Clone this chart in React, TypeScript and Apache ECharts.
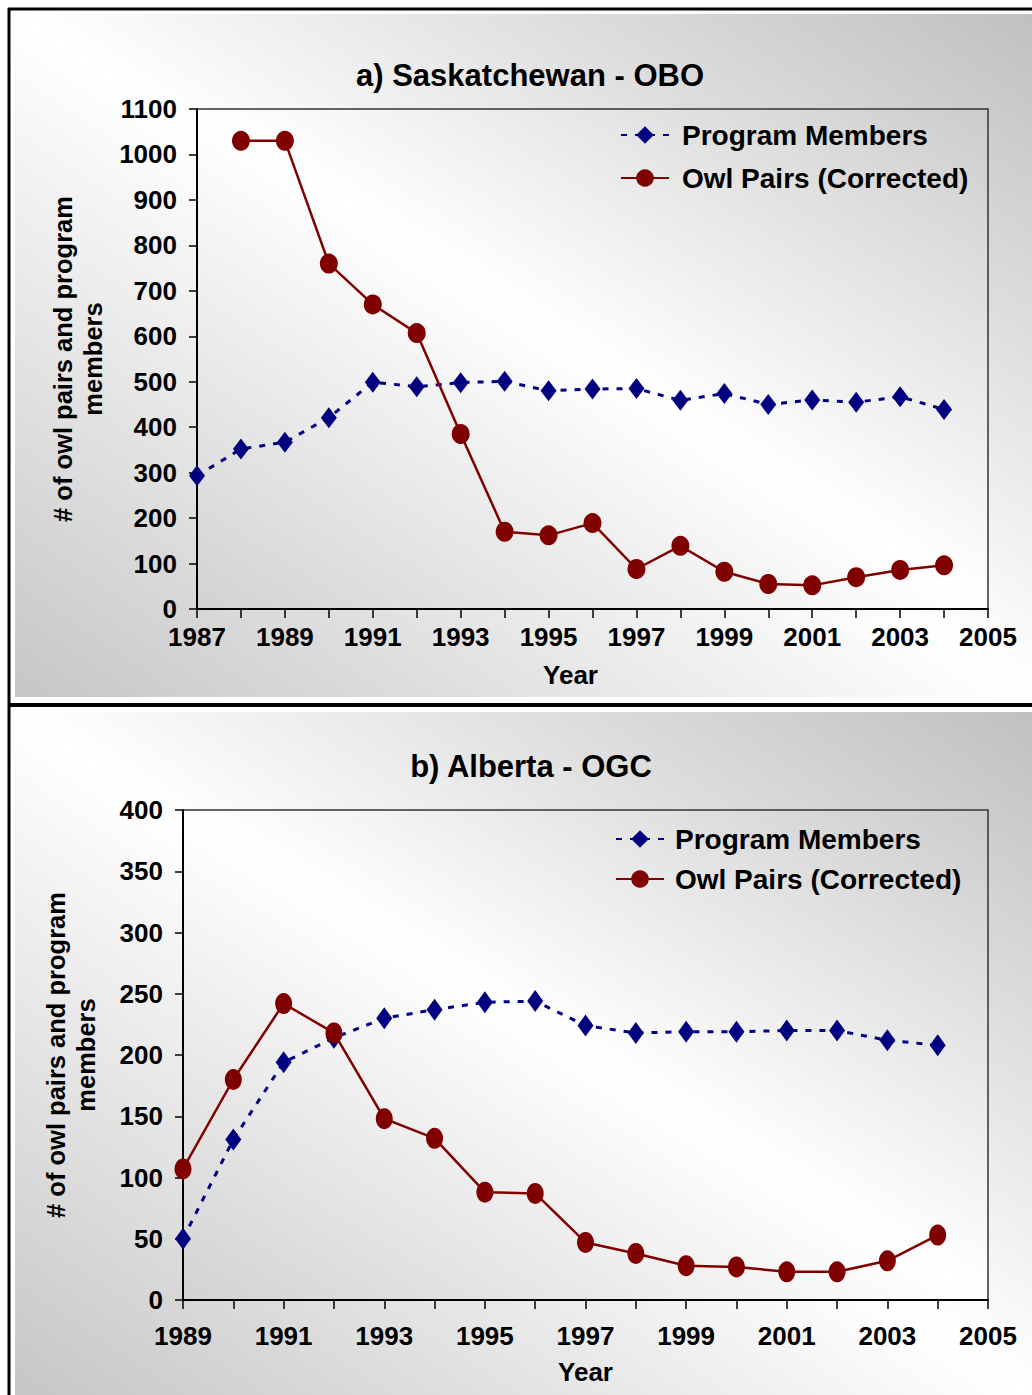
import React, { useEffect, useRef } from 'react';
import * as echarts from 'echarts';

// ---------- Data ----------
const yearsMembersA = [1987, 1988, 1989, 1990, 1991, 1992, 1993, 1994, 1995, 1996, 1997, 1998, 1999, 2000, 2001, 2002, 2003, 2004];
const membersA = [293, 352, 367, 421, 499, 489, 498, 501, 480, 484, 485, 459, 474, 450, 460, 455, 467, 439];
const yearsOwlA = [1988, 1989, 1990, 1991, 1992, 1993, 1994, 1995, 1996, 1997, 1998, 1999, 2000, 2001, 2002, 2003, 2004];
const owlA = [1030, 1030, 760, 670, 607, 385, 170, 162, 189, 88, 139, 82, 55, 52, 70, 86, 96];

const yearsB = [1989, 1990, 1991, 1992, 1993, 1994, 1995, 1996, 1997, 1998, 1999, 2000, 2001, 2002, 2003, 2004];
const membersB = [50, 131, 194, 214, 230, 237, 243, 244, 224, 218, 219, 219, 220, 220, 212, 208];
const owlB = [107, 180, 242, 218, 148, 132, 88, 87, 47, 38, 28, 27, 23, 23, 32, 53];

const xLabelsA = ['1987', '1989', '1991', '1993', '1995', '1997', '1999', '2001', '2003', '2005'];
const xLabelsB = ['1989', '1991', '1993', '1995', '1997', '1999', '2001', '2003', '2005'];

const titleA = 'a) Saskatchewan - OBO';
const titleB = 'b) Alberta - OGC';
const seriesNames = ['Program Members', 'Owl Pairs (Corrected)'];
const yName = '# of owl pairs and program\nmembers';
const xName = 'Year';

// ---------- Styles ----------
const FONT = '"Liberation Sans", Arial, Helvetica, sans-serif';
const NAVY = '#000080';
const MAROON = '#800000';

const zip = (xs: number[], ys: number[]) => xs.map((x, i) => [x, ys[i]]);

const outerGradient = () => ({
  type: 'linear', x: 0, y: 1, x2: 1, y2: 0,
  colorStops: [
    { offset: 0, color: '#c6c6c6' },
    { offset: 0.5, color: '#ffffff' },
    { offset: 1, color: '#c0c0c0' },
  ],
});
const plotGradient = () => ({
  type: 'linear', x: 0, y: 1, x2: 1, y2: 0,
  colorStops: [
    { offset: 0, color: '#d2d2d2' },
    { offset: 0.5, color: '#ffffff' },
    { offset: 1, color: '#cccccc' },
  ],
});

const axisText = { fontFamily: FONT, fontSize: 26, fontWeight: 'bold' as const, color: '#000' };

function makeXAxis(gridIndex: number, min: number, max: number, labels: string[], margin: number, nameGap: number, namePad: number[]) {
  return {
    type: 'value', gridIndex, min, max, interval: 1,
    axisLine: { show: true, onZero: false, lineStyle: { color: '#000', width: 2 } },
    axisTick: { show: true, length: 9, lineStyle: { color: '#000', width: 1.5 } },
    splitLine: { show: false },
    axisLabel: {
      ...axisText, margin, showMinLabel: true, showMaxLabel: true,
      formatter: (v: number) => (labels.includes(String(v)) ? String(v) : ''),
    },
    name: xName, nameLocation: 'middle', nameGap,
    nameTextStyle: { fontFamily: FONT, fontSize: 26, fontWeight: 'bold', color: '#000', padding: namePad },
  };
}

function makeYAxis(gridIndex: number, max: number, interval: number, nameGap: number) {
  return {
    type: 'value', gridIndex, min: 0, max, interval,
    axisLine: { show: true, onZero: false, lineStyle: { color: '#000', width: 2 } },
    axisTick: { show: true, length: 8, lineStyle: { color: '#000', width: 1.5 } },
    splitLine: { show: false },
    axisLabel: { ...axisText, margin: 20, formatter: (v: number) => String(v) },
    name: yName, nameLocation: 'middle', nameRotate: 90, nameGap,
    nameTextStyle: { fontFamily: FONT, fontSize: 25.5, fontWeight: 'bold', color: '#000', lineHeight: 30, align: 'center' },
  };
}

function makeLegend(left: number, top: number, gap: number, textPad: number) {
  return {
    orient: 'vertical', left, top, padding: 0, itemWidth: 48, itemHeight: 22, itemGap: gap,
    data: seriesNames, selectedMode: false,
    textStyle: { fontFamily: FONT, fontSize: 28, fontWeight: 'bold', color: '#000', padding: [0, 0, 0, textPad] },
  };
}

export default function App() {
  const ref = useRef<HTMLDivElement>(null);

  useEffect(() => {
    if (!ref.current) return;
    const chart = echarts.init(ref.current, null, { renderer: 'svg' });

    const option: any = {
      animation: false,
      backgroundColor: '#ffffff',
      grid: [
        { left: 197, top: 109, width: 791, height: 500, show: true, borderColor: '#333', borderWidth: 1.5, backgroundColor: 'transparent' },
        { left: 183, top: 810, width: 805, height: 490, show: true, borderColor: '#333', borderWidth: 1.5, backgroundColor: 'transparent' },
      ],
      xAxis: [
        makeXAxis(0, 1987, 2005, xLabelsA, 15, 53, [0, 44, 0, 0]),
        makeXAxis(1, 1989, 2005, xLabelsB, 23, 59, [0, 0, 0, 0]),
      ],
      yAxis: [
        makeYAxis(0, 1100, 100, 87),
        makeYAxis(1, 400, 50, 82),
      ],
      legend: [makeLegend(620, 121, 15, 8), makeLegend(615, 825, 12, 6)],
      series: [
        {
          name: seriesNames[0], type: 'line', xAxisIndex: 0, yAxisIndex: 0,
          data: zip(yearsMembersA, membersA), symbol: 'diamond', symbolSize: [16, 21],
          lineStyle: { color: NAVY, width: 3, type: [6, 8] }, itemStyle: { color: NAVY }, z: 3,
        },
        {
          name: seriesNames[1], type: 'line', xAxisIndex: 0, yAxisIndex: 0,
          data: zip(yearsOwlA, owlA), symbol: 'circle', symbolSize: [18, 20],
          lineStyle: { color: MAROON, width: 2.5 }, itemStyle: { color: MAROON }, z: 4,
        },
        {
          name: seriesNames[0], type: 'line', xAxisIndex: 1, yAxisIndex: 1,
          data: zip(yearsB, membersB), symbol: 'diamond', symbolSize: [16, 22],
          lineStyle: { color: NAVY, width: 3, type: [6, 8] }, itemStyle: { color: NAVY }, z: 3,
        },
        {
          name: seriesNames[1], type: 'line', xAxisIndex: 1, yAxisIndex: 1,
          data: zip(yearsB, owlB), symbol: 'circle', symbolSize: [17, 21],
          lineStyle: { color: MAROON, width: 2.5 }, itemStyle: { color: MAROON }, z: 4,
        },
      ],
      graphic: [
        { type: 'rect', z: -20, silent: true, shape: { x: 15, y: 14, width: 1017, height: 683 }, style: { fill: outerGradient() } },
        { type: 'rect', z: -20, silent: true, shape: { x: 15, y: 712, width: 1017, height: 683 }, style: { fill: outerGradient() } },
        { type: 'rect', z: -10, silent: true, shape: { x: 197, y: 109, width: 791, height: 500 }, style: { fill: plotGradient() } },
        { type: 'rect', z: -10, silent: true, shape: { x: 183, y: 810, width: 805, height: 490 }, style: { fill: plotGradient() } },
        { type: 'line', z: 20, silent: true, shape: { x1: 9, y1: 8, x2: 9, y2: 1395 }, style: { stroke: '#000', lineWidth: 3 } },
        { type: 'line', z: 20, silent: true, shape: { x1: 8, y1: 9, x2: 1032, y2: 9 }, style: { stroke: '#000', lineWidth: 3 } },
        { type: 'rect', z: 20, silent: true, shape: { x: 8, y: 703, width: 1024, height: 4 }, style: { fill: '#000' } },
        {
          type: 'text', z: 20, silent: true, x: 530, y: 75,
          style: { text: titleA, fontFamily: FONT, fontSize: 31, fontWeight: 'bold', fill: '#000', align: 'center', verticalAlign: 'middle', textAlign: 'center', textVerticalAlign: 'middle' },
        },
        {
          type: 'text', z: 20, silent: true, x: 531, y: 766,
          style: { text: titleB, fontFamily: FONT, fontSize: 31, fontWeight: 'bold', fill: '#000', align: 'center', verticalAlign: 'middle', textAlign: 'center', textVerticalAlign: 'middle' },
        },
      ],
    };

    chart.setOption(option);
    return () => chart.dispose();
  }, []);

  return <div ref={ref} style={{ position: 'absolute', left: 0, top: 0, width: 1032, height: 1395 }} />;
}
